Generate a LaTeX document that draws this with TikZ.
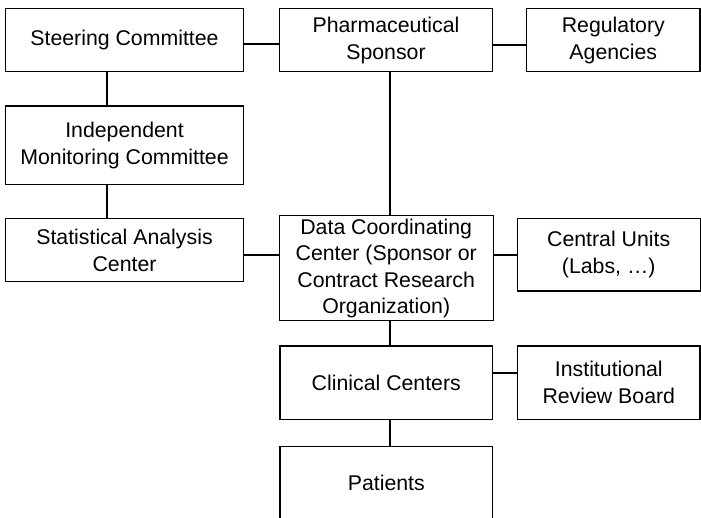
\documentclass[tikz,border=0pt]{standalone}
\usepackage{fontspec}
\setmainfont{Liberation Sans}
\begin{document}
\begin{tikzpicture}[x=1pt,y=-1pt,
  orgbox/.style={draw=black,line width=1.1pt,inner sep=0pt,align=center,
    font=\fontsize{21.3}{27}\selectfont,text=black},
  link/.style={draw=black,line width=1.7pt}]
\clip (0,0) rectangle (701,518);
\fill[white] (0,0) rectangle (701,518);
\node[orgbox,minimum width=237.6pt,minimum height=63.4pt] (steer) at (124.5,40) {Steering Committee};
\node[orgbox,minimum width=213.4pt,minimum height=63.4pt] (pharma) at (386,40) {Pharmaceutical\\Sponsor};
\node[orgbox,minimum width=173.3pt,minimum height=63.4pt] (reg) at (613.3,40) {Regulatory\\Agencies};
\node[orgbox,minimum width=237.6pt,minimum height=78.3pt] (imc) at (124.5,145.2) {Independent\\Monitoring Committee};
\node[orgbox,minimum width=237.6pt,minimum height=63.4pt] (stat) at (124.5,250) {Statistical Analysis\\Center};
\node[orgbox,minimum width=213.7pt,minimum height=104.7pt,font=\fontsize{21.3}{26.4}\selectfont] (dcc) at (386.2,268.3) {Data Coordinating\\Center (Sponsor or\\Contract Research\\Organization)};
\node[orgbox,minimum width=182.7pt,minimum height=72.7pt] (central) at (608.7,254.7) {Central Units\\(Labs, …)};
\node[orgbox,minimum width=212.7pt,minimum height=73.3pt] (clin) at (386.3,382.7) {Clinical Centers};
\node[orgbox,minimum width=182.3pt,minimum height=73.3pt] (irb) at (608.8,382.7) {Institutional\\Review Board};
\node[orgbox,minimum width=212.7pt,minimum height=73.3pt] (pat) at (386.3,483.3) {Patients};
\draw[link] ([yshift=-4.3pt]steer.east) -- ([yshift=-4.3pt]steer.east -| pharma.west);
\draw[link] ([yshift=-5pt]pharma.east) -- ([yshift=-5pt]pharma.east -| reg.west);
\draw[link] ([xshift=-17.8pt]steer.south) -- ([xshift=-17.8pt]steer.south |- imc.north);
\draw[link] ([xshift=-17.8pt]imc.south) -- ([xshift=-17.8pt]imc.south |- stat.north);
\draw[link] ([yshift=-5pt]stat.east) -- ([yshift=-5pt]stat.east -| dcc.west);
\draw[link] (central.west) -- (central.west -| dcc.east);
\draw[link] ([xshift=4pt]pharma.south) -- ([xshift=4pt]pharma.south |- dcc.north);
\draw[link] ([xshift=3.8pt]dcc.south) -- ([xshift=3.8pt]dcc.south |- clin.north);
\draw[link] ([yshift=9.4pt]clin.east) -- ([yshift=9.4pt]clin.east -| irb.west);
\draw[link] ([xshift=3.7pt]clin.south) -- ([xshift=3.7pt]clin.south |- pat.north);
\end{tikzpicture}
\end{document}
